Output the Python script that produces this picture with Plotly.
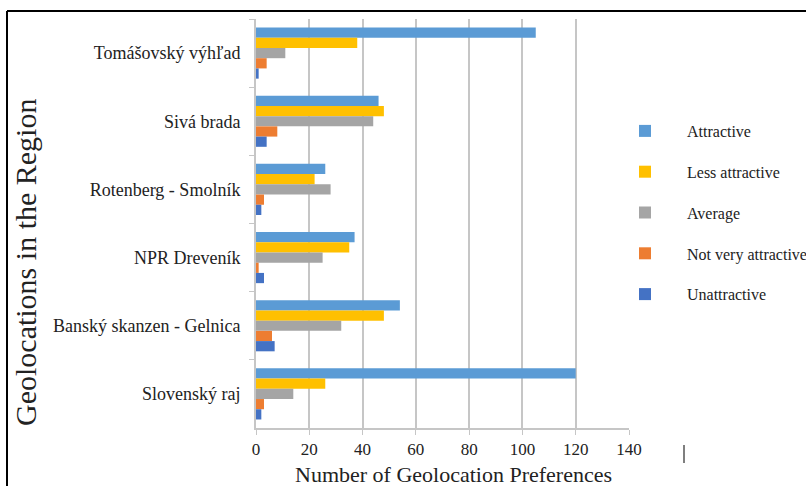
import plotly.graph_objects as go

# Geolocations (top to bottom) and preference counts per rating
locations = [
    "Tomášovský výhľad",
    "Sivá brada",
    "Rotenberg - Smolník",
    "NPR Dreveník",
    "Banský skanzen - Gelnica",
    "Slovenský raj",
]
attractive = [105, 46, 26, 37, 54, 120]
less_attractive = [38, 48, 22, 35, 48, 26]
average = [11, 44, 28, 25, 32, 14]
not_very_attractive = [4, 8, 3, 1, 6, 3]
unattractive = [1, 4, 2, 3, 7, 2]

series_names = ["Attractive", "Less attractive", "Average",
                "Not very attractive", "Unattractive"]
series_values = [attractive, less_attractive, average,
                 not_very_attractive, unattractive]
series_colors = ["#5B9BD5", "#FFC000", "#A5A5A5", "#ED7D31", "#4472C4"]

x_ticks = [0, 20, 40, 60, 80, 100, 120, 140]

W, H = 806, 486
ML, MR, MT, MB = 256, 177, 19, 58
PW, PH = W - ML - MR, H - MT - MB


def px_x(px):
    return (px - ML) / PW


def px_y(py):
    return (H - MB - py) / PH


FONT = "Liberation Serif, Times New Roman, serif"
GRID = "#C6C6C6"

fig = go.Figure()
for i, (name, vals, col) in enumerate(zip(series_names, series_values, series_colors)):
    fig.add_trace(go.Bar(
        y=locations, x=vals, name=name, orientation="h",
        marker=dict(color=col, line=dict(width=0)),
        legendgroup=f"g{i}",
    ))

fig.update_layout(
    width=W, height=H,
    margin=dict(l=ML, r=MR, t=MT, b=MB, pad=0, autoexpand=False),
    paper_bgcolor="white", plot_bgcolor="white",
    barmode="group", bargap=0.25, bargroupgap=0,
    font=dict(family=FONT, color="#222222"),
    showlegend=True,
    legend=dict(
        xref="container", yref="container",
        x=603 / W, y=1 - 114 / H, xanchor="left", yanchor="top",
        font=dict(family=FONT, size=16, color="#222222"),
        itemwidth=74, tracegroupgap=17, traceorder="grouped",
        bgcolor="rgba(0,0,0,0)", borderwidth=0,
    ),
    xaxis=dict(
        range=[0, 140], tickvals=x_ticks, ticktext=[str(v) for v in x_ticks],
        showgrid=True, gridcolor=GRID, gridwidth=2,
        zeroline=False, showline=True, linecolor=GRID, linewidth=2,
        ticks="outside", ticklen=5, tickcolor=GRID, tickwidth=1,
        tickfont=dict(family=FONT, size=17, color="#222222"),
        fixedrange=True,
    ),
    yaxis=dict(
        type="category", autorange="reversed",
        showgrid=False, zeroline=False, showline=True,
        linecolor=GRID, linewidth=2,
        ticks="outside", ticklen=5, tickcolor=GRID, tickwidth=1,
        tickson="boundaries", ticklabelstandoff=10,
        tickfont=dict(family=FONT, size=18, color="#222222"),
        fixedrange=True,
    ),
    annotations=[
        dict(text="Number of Geolocation Preferences",
             xref="paper", yref="paper", x=px_x(453), y=px_y(489),
             xanchor="center", yanchor="bottom", showarrow=False,
             font=dict(family=FONT, size=22, color="#222222")),
        dict(text="Geolocations in the Region",
             xref="paper", yref="paper", x=px_x(25), y=px_y(263),
             xanchor="center", yanchor="middle", showarrow=False, textangle=-90,
             font=dict(family=FONT, size=30, color="#222222")),
    ],
    shapes=[
        # frame lines on the left and top edges
        dict(type="line", xref="paper", yref="paper",
             x0=px_x(7), x1=px_x(7), y0=px_y(11), y1=px_y(H + 2),
             line=dict(color="black", width=2)),
        dict(type="line", xref="paper", yref="paper",
             x0=px_x(7), x1=px_x(W + 2), y0=px_y(11), y1=px_y(11),
             line=dict(color="black", width=2)),
        # small vertical mark below the axis
        dict(type="line", xref="paper", yref="paper",
             x0=px_x(684), x1=px_x(684), y0=px_y(445), y1=px_y(463),
             line=dict(color="#555555", width=1.5)),
    ],
)

fig.write_html("out.html")
